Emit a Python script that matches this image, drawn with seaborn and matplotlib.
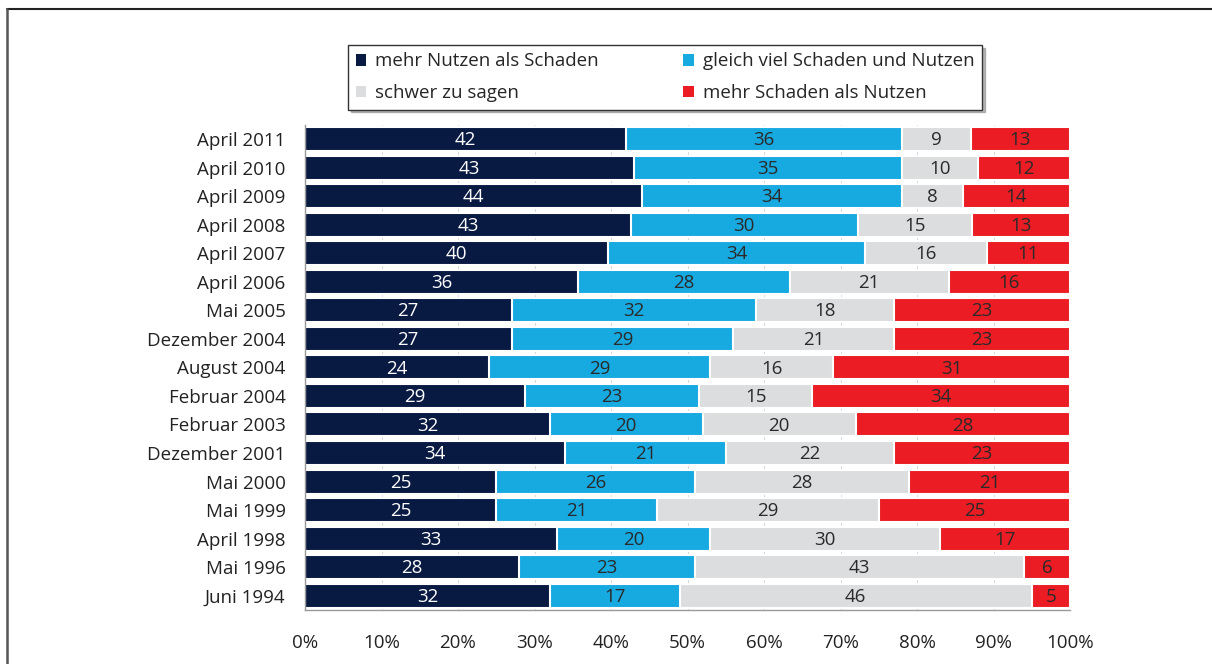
import numpy as np
import pandas as pd
import matplotlib
matplotlib.use("Agg")
import matplotlib.pyplot as plt
import seaborn as sns
from matplotlib.lines import Line2D
from matplotlib.patches import Patch

categories = ["April 2011", "April 2010", "April 2009", "April 2008", "April 2007",
              "April 2006", "Mai 2005", "Dezember 2004", "August 2004", "Februar 2004",
              "Februar 2003", "Dezember 2001", "Mai 2000", "Mai 1999", "April 1998",
              "Mai 1996", "Juni 1994"]
mehr_nutzen = [42, 43, 44, 43, 40, 36, 27, 27, 24, 29, 32, 34, 25, 25, 33, 28, 32]
gleich_viel = [36, 35, 34, 30, 34, 28, 32, 29, 29, 23, 20, 21, 26, 21, 20, 23, 17]
schwer = [9, 10, 8, 15, 16, 21, 18, 21, 16, 15, 20, 22, 28, 29, 30, 43, 46]
mehr_schaden = [13, 12, 14, 13, 11, 16, 23, 23, 31, 34, 28, 23, 21, 25, 17, 6, 5]

series_names = ["mehr Nutzen als Schaden", "gleich viel Schaden und Nutzen",
                "schwer zu sagen", "mehr Schaden als Nutzen"]
colors = ["#081942", "#17aae1", "#dcdddf", "#ec1c24"]
text_colors = ["white", "#2a2a2a", "#2a2a2a", "#2a2a2a"]

sns.set_theme(style="white")
plt.rcParams["font.family"] = ["Open Sans", "DejaVu Sans"]

vals = np.array([mehr_nutzen, gleich_viel, schwer, mehr_schaden], dtype=float)
share = vals / vals.sum(axis=0) * 100
cum = np.cumsum(share, axis=0)

fig = plt.figure(figsize=(12.12, 6.64), dpi=100)
ax = fig.add_axes([305 / 1212, 1 - 610 / 664, 765 / 1212, (610 - 124.75) / 664])

for xv in range(10, 101, 10):
    ax.axvline(xv, color="#d0d0d0", lw=0.6, zorder=0)

for i in reversed(range(4)):
    df = pd.DataFrame({"cat": categories, "v": cum[i]})
    sns.barplot(data=df, x="v", y="cat", orient="h", color=colors[i], ax=ax,
                width=0.84, edgecolor="white", linewidth=1.5, saturation=1, zorder=2)

for i in range(4):
    left = cum[i] - share[i]
    for j in range(len(categories)):
        ax.text(left[j] + share[i][j] / 2, j + 0.04, f"{int(vals[i][j])}", ha="center",
                va="center", fontsize=13.5, color=text_colors[i], zorder=5)

ax.set_xlim(0, 100)
ax.set_ylim(16.5, -0.5)
ax.set_xlabel("")
ax.set_ylabel("")
ax.set_xticks(range(0, 101, 10))
ax.set_xticklabels([f"{v}%" for v in range(0, 101, 10)], fontsize=13.5, color="#222222")
ax.tick_params(axis="x", which="major", direction="out", length=8, width=1,
               color="#999999", pad=9)
ax.tick_params(axis="y", which="major", length=0, labelsize=13.5, labelcolor="#222222", pad=14)
ax.set_yticks(np.arange(-0.5, 17, 1), minor=True)
ax.tick_params(axis="y", which="minor", direction="out", length=6, width=1, color="#999999")
for s in ["top", "right"]:
    ax.spines[s].set_visible(False)
for s in ["left", "bottom"]:
    ax.spines[s].set_color("#999999")
    ax.spines[s].set_linewidth(1)

order = [0, 2, 1, 3]
handles = [Patch(facecolor=colors[k], edgecolor="none") for k in order]
labels = [series_names[k] for k in order]
leg = fig.legend(handles, labels, loc="upper left",
                 bbox_to_anchor=(348 / 1212, 1 - 45 / 664), ncol=2, frameon=True,
                 fontsize=13.5, handlelength=0.55, handleheight=0.55, handletextpad=0.5,
                 columnspacing=4.5, borderpad=0.4, labelspacing=0.72, fancybox=False,
                 borderaxespad=0,
                 shadow={"color": "#888888", "alpha": 0.6})
leg.get_frame().set_edgecolor("#333333")
leg.get_frame().set_linewidth(1)

fig.add_artist(Line2D([7 / 1212, 1], [1 - 9 / 664, 1 - 9 / 664], color="#222222", lw=1.5,
                      transform=fig.transFigure))
fig.add_artist(Line2D([7 / 1212, 7 / 1212], [1 - 9 / 664, 0], color="#555555", lw=1.8,
                      transform=fig.transFigure))

fig.savefig("out.png", dpi=100)
